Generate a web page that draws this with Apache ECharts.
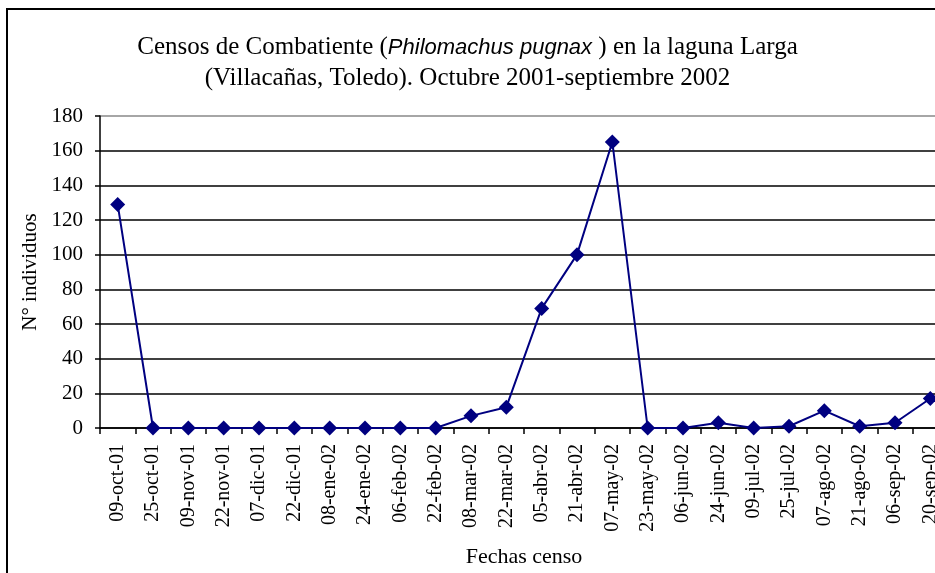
<!DOCTYPE html>
<html>
<head>
<meta charset="utf-8">
<script src="https://cdn.jsdelivr.net/npm/echarts@6/dist/echarts.min.js"></script>
<style>
  html, body { margin: 0; padding: 0; background: #fff; }
  #chart { width: 935px; height: 573px; }
</style>
</head>
<body>
<div id="chart"></div>
<script>
// fechas de censo
var fechas = ['09-oct-01', '25-oct-01', '09-nov-01', '22-nov-01', '07-dic-01', '22-dic-01',
  '08-ene-02', '24-ene-02', '06-feb-02', '22-feb-02', '08-mar-02', '22-mar-02',
  '05-abr-02', '21-abr-02', '07-may-02', '23-may-02', '06-jun-02', '24-jun-02',
  '09-jul-02', '25-jul-02', '07-ago-02', '21-ago-02', '06-sep-02', '20-sep-02'];
// nº de individuos en cada censo
var individuos = [129, 0, 0, 0, 0, 0, 0, 0, 0, 0, 7, 12, 69, 100, 165, 0, 0, 3, 0, 1, 10, 1, 3, 17];

var serif = "'Liberation Serif', 'Times New Roman', serif";

var chart = echarts.init(document.getElementById('chart'));
chart.setOption({
  animation: false,
  backgroundColor: '#fff',
  title: {
    left: 'center',
    top: 27,
    text: '{a|Censos de Combatiente (}{b|Philomachus pugnax}{a| ) en la laguna Larga}\n{a|(Villacañas, Toledo). Octubre 2001-septiembre 2002}',
    textStyle: {
      fontWeight: 'normal',
      rich: {
        a: { fontFamily: serif, fontSize: 25, fontWeight: 'normal', color: '#000', lineHeight: 31 },
        b: { fontFamily: "'Liberation Sans', Arial, sans-serif", fontStyle: 'italic', fontWeight: 'normal', fontSize: 22, color: '#000', lineHeight: 31 }
      }
    }
  },
  graphic: [{
    type: 'rect',
    shape: { x: 7, y: 9, width: 1000, height: 1000 },
    style: { fill: null, stroke: '#000', lineWidth: 2 },
    silent: true
  }],
  grid: { left: 100, top: 116, width: 848, height: 312, outerBoundsMode: 'none' },
  xAxis: {
    type: 'category',
    data: fechas,
    boundaryGap: true,
    name: 'Fechas censo',
    nameLocation: 'middle',
    nameGap: 118,
    nameTextStyle: { fontFamily: serif, fontSize: 22, color: '#000' },
    axisLine: { lineStyle: { color: '#000', width: 1.5 } },
    axisTick: { show: true, length: 6, lineStyle: { color: '#000', width: 1.5 } },
    axisLabel: { rotate: 90, interval: 0, margin: 16, fontFamily: serif, fontSize: 20, color: '#000' }
  },
  yAxis: {
    type: 'value',
    min: 0,
    max: 180,
    interval: 20,
    name: 'N° individuos',
    nameLocation: 'middle',
    nameGap: 58,
    nameTextStyle: { fontFamily: serif, fontSize: 21, color: '#000' },
    axisLine: { show: true, lineStyle: { color: '#000', width: 1.5 } },
    axisTick: { show: true, length: 5, lineStyle: { color: '#000', width: 1.5 } },
    axisLabel: { margin: 17, fontFamily: serif, fontSize: 21, color: '#000' },
    splitLine: {
      show: true,
      lineStyle: {
        color: ['#000', '#000', '#000', '#000', '#000', '#000', '#000', '#000', '#000', '#888'],
        width: 1.5
      }
    }
  },
  series: [{
    type: 'line',
    data: individuos,
    symbol: 'diamond',
    symbolSize: 15,
    lineStyle: { color: '#000080', width: 2 },
    itemStyle: { color: '#000080' }
  }]
});
</script>
</body>
</html>
